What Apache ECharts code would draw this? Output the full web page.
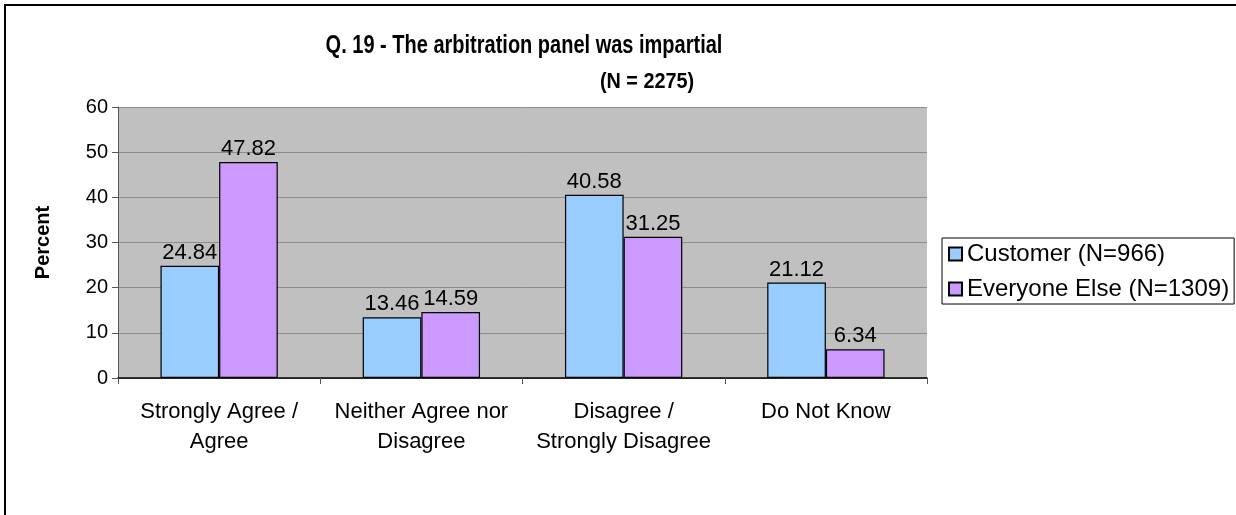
<!DOCTYPE html>
<html>
<head>
<meta charset="utf-8">
<script src="https://cdn.jsdelivr.net/npm/echarts@6/dist/echarts.min.js"></script>
<style>
  html, body { margin: 0; padding: 0; background: #fff; }
  #chart { width: 1236px; height: 515px; }
</style>
</head>
<body>
<div id="chart"></div>
<script>
// chart data
const categories = ['Strongly Agree /\nAgree', 'Neither Agree nor\nDisagree', 'Disagree /\nStrongly Disagree', 'Do Not Know'];
const customer = [24.84, 13.46, 40.58, 21.12];
const everyoneElse = [47.82, 14.59, 31.25, 6.34];
const seriesNames = ['Customer (N=966)', 'Everyone Else (N=1309)'];
const titleText = 'Q. 19 - The arbitration panel was impartial';
const subTitleText = '(N = 2275)';

const FONT = '"Liberation Sans", Arial, sans-serif';
const chart = echarts.init(document.getElementById('chart'));

const labelStyle = {
  show: true,
  position: 'top',
  distance: 2,
  color: '#000',
  fontFamily: FONT,
  fontSize: 22
};

chart.setOption({
  animation: false,
  textStyle: { fontFamily: FONT },
  graphic: [
    {
      type: 'rect',
      shape: { x: 5, y: 5, width: 1300, height: 600 },
      style: { fill: 'none', stroke: '#000', lineWidth: 2 },
      silent: true
    },
    {
      // condensed bold title like the original
      type: 'text',
      x: 524, y: 46, scaleX: 0.8,
      style: {
        text: titleText, fill: '#000', font: 'bold 25px ' + FONT,
        align: 'center', verticalAlign: 'middle'
      },
      silent: true
    },
    {
      type: 'text',
      x: 647, y: 82, scaleX: 0.9,
      style: {
        text: subTitleText, fill: '#000', font: 'bold 22px ' + FONT,
        align: 'center', verticalAlign: 'middle'
      },
      silent: true
    }
  ],
  legend: {
    orient: 'vertical',
    left: 942, top: 238,
    padding: [4, 5, 3, 6],
    itemGap: 11,
    itemWidth: 13, itemHeight: 13,
    borderColor: '#000', borderWidth: 1,
    backgroundColor: '#fff',
    icon: 'rect',
    textStyle: { fontFamily: FONT, fontSize: 24, color: '#000' },
    data: seriesNames
  },
  grid: { left: 118, right: 309, top: 107, bottom: 137, backgroundColor: '#C0C0C0', show: true, borderWidth: 0 },
  xAxis: {
    type: 'category',
    data: categories,
    axisLine: { lineStyle: { color: '#000', width: 1.5 } },
    axisTick: { show: true, length: 6, lineStyle: { color: '#555' } },
    axisLabel: { interval: 0, color: '#000', fontFamily: FONT, fontSize: 22, margin: 19, lineHeight: 30 }
  },
  yAxis: {
    type: 'value',
    min: 0, max: 60, interval: 10,
    name: 'Percent',
    nameLocation: 'middle',
    nameGap: 65,
    nameTextStyle: { fontFamily: FONT, fontSize: 20, fontWeight: 'bold', color: '#000' },
    axisLine: { show: true, lineStyle: { color: '#555' } },
    axisTick: { show: true, length: 6, lineStyle: { color: '#555' } },
    axisLabel: { color: '#000', fontFamily: FONT, fontSize: 20, margin: 10 },
    splitLine: { lineStyle: { color: '#8c8c8c' } }
  },
  series: [
    {
      name: seriesNames[0],
      type: 'bar',
      data: customer,
      barGap: '0%',
      barCategoryGap: '42%',
      itemStyle: { color: '#99CCFF', borderColor: '#000', borderWidth: 1.2 },
      label: labelStyle
    },
    {
      name: seriesNames[1],
      type: 'bar',
      data: everyoneElse,
      itemStyle: { color: '#CC99FF', borderColor: '#000', borderWidth: 1.2 },
      label: labelStyle
    }
  ]
});
</script>
</body>
</html>
